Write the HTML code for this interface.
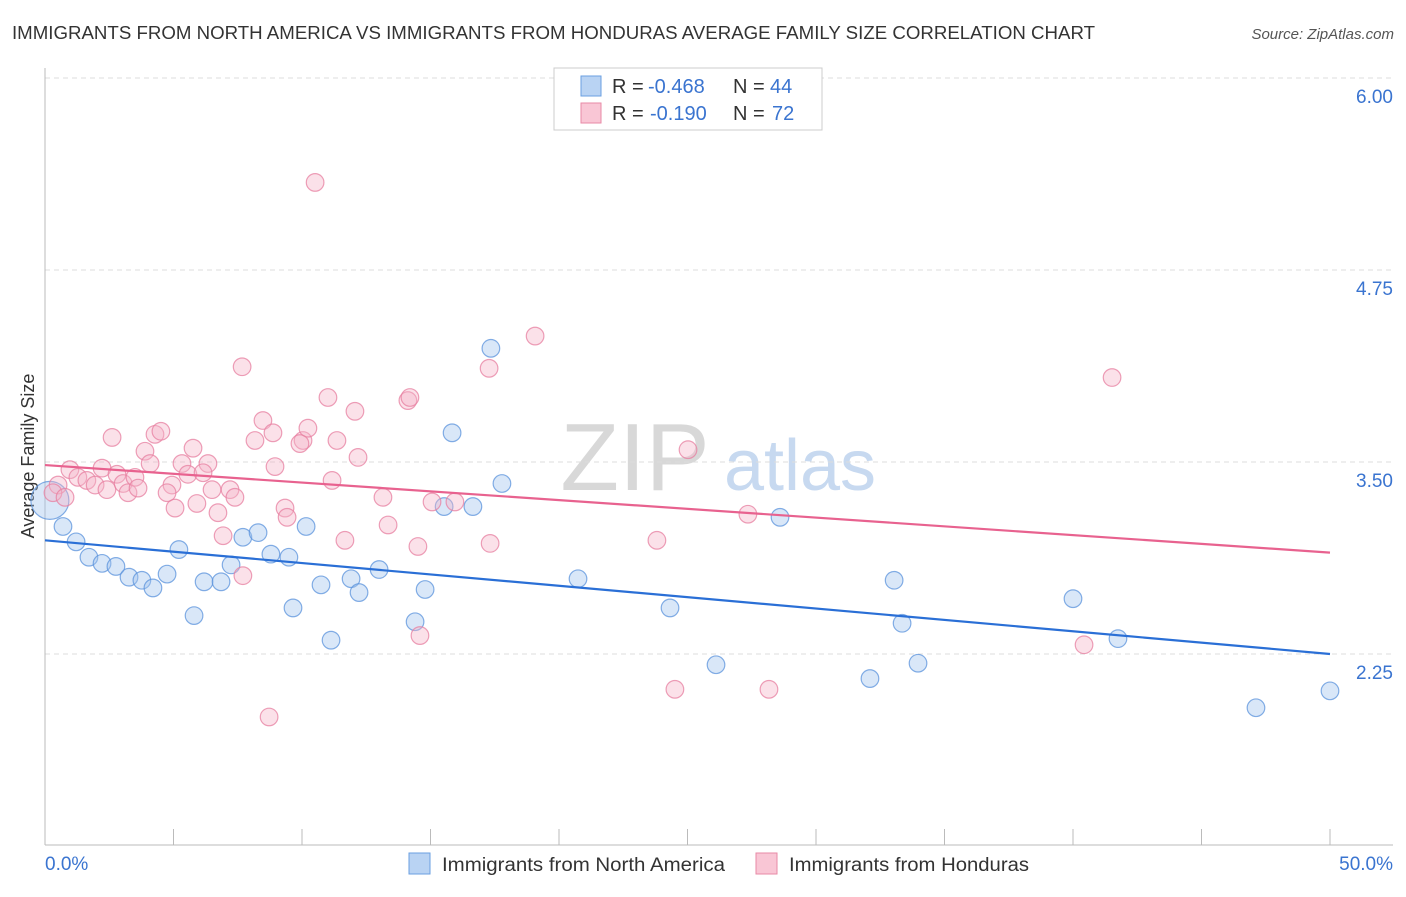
<!DOCTYPE html>
<html><head><meta charset="utf-8"><style>
body{margin:0;background:#fff;font-family:"Liberation Sans",sans-serif}
svg text{font-family:"Liberation Sans",sans-serif}
</style></head><body>
<svg id="c" width="1406" height="892">
<text x="12" y="39" font-size="18" fill="#333" textLength="1083" lengthAdjust="spacingAndGlyphs">IMMIGRANTS FROM NORTH AMERICA VS IMMIGRANTS FROM HONDURAS AVERAGE FAMILY SIZE CORRELATION CHART</text>
<text x="1394" y="39" font-size="15" fill="#555" text-anchor="end" font-style="italic">Source: ZipAtlas.com</text>
<text x="635" y="490" font-size="96" fill="#d8d8d8" text-anchor="middle" font-family="Liberation Serif">ZIP</text>
<text x="800" y="490" font-size="72" fill="#c7d9f0" text-anchor="middle">atlas</text>
<text transform="translate(34,456) rotate(-90)" font-size="18" fill="#333" text-anchor="middle">Average Family Size</text>
<g id="grid"></g><g id="marks"></g>
<g>
<rect x="554" y="68" width="268" height="62" fill="#fff" stroke="#ccc"/>
<rect x="581" y="76" width="20" height="20" fill="#b9d3f3" stroke="#6a9fe0"/>
<rect x="581" y="103" width="20" height="20" fill="#f9c6d5" stroke="#e88aa6"/>
<text x="612" y="93" font-size="20" fill="#333">R =</text>
<text x="648" y="93" font-size="20" fill="#3a74d0">-0.468</text>
<text x="733" y="93" font-size="20" fill="#333">N =</text>
<text x="770" y="93" font-size="20" fill="#3a74d0">44</text>
<text x="612" y="120" font-size="20" fill="#333">R =</text>
<text x="650" y="120" font-size="20" fill="#3a74d0">-0.190</text>
<text x="733" y="120" font-size="20" fill="#333">N =</text>
<text x="772" y="120" font-size="20" fill="#3a74d0">72</text>
</g>
<g>
<rect x="409" y="853" width="21" height="21" fill="#b9d3f3" stroke="#6a9fe0"/>
<text x="442" y="871" font-size="19" fill="#333" textLength="283" lengthAdjust="spacingAndGlyphs">Immigrants from North America</text>
<rect x="756" y="853" width="21" height="21" fill="#f9c6d5" stroke="#e88aa6"/>
<text x="789" y="871" font-size="19" fill="#333" textLength="240" lengthAdjust="spacingAndGlyphs">Immigrants from Honduras</text>
</g>
</svg>
<script>
const yTicks=[6.00,4.75,3.50,2.25];
const xTickLabels=["0.0%","50.0%"];
const blueX=[0.19,0.70,1.21,1.71,2.22,2.76,3.27,3.77,4.20,4.75,5.21,5.80,6.19,6.85,7.24,7.70,8.29,8.79,9.49,9.65,10.16,10.74,11.13,11.91,12.22,13.00,14.40,14.79,15.53,15.84,16.65,17.35,17.78,20.74,24.32,26.11,28.60,32.10,33.04,33.35,33.97,40.00,41.75,47.12,50.00];
const blueY=[3.25,3.08,2.98,2.88,2.84,2.82,2.75,2.73,2.68,2.77,2.93,2.50,2.72,2.72,2.83,3.01,3.04,2.90,2.88,2.55,3.08,2.70,2.34,2.74,2.65,2.80,2.46,2.67,3.21,3.69,3.21,4.24,3.36,2.74,2.55,2.18,3.14,2.09,2.73,2.45,2.19,2.61,2.35,1.90,2.01];
const pinkX=[2.61,4.28,4.51,3.89,4.09,2.22,0.97,1.28,1.63,1.95,2.41,2.80,3.04,3.23,3.50,3.62,0.51,0.31,0.78,5.76,5.33,5.56,6.34,6.15,4.94,4.75,5.06,5.91,6.50,6.73,7.20,7.39,6.93,7.70,8.48,8.87,8.17,10.04,10.23,9.92,11.36,12.06,12.18,8.95,11.17,9.34,9.42,13.15,13.35,11.67,14.51,15.06,14.59,14.12,10.51,7.67,19.07,17.28,11.01,14.20,41.52,25.02,15.95,17.32,23.81,27.35,24.51,28.17,40.43,8.72];
const pinkY=[3.66,3.68,3.70,3.57,3.49,3.46,3.45,3.40,3.38,3.35,3.32,3.42,3.36,3.30,3.40,3.33,3.35,3.30,3.27,3.59,3.49,3.42,3.49,3.43,3.35,3.30,3.20,3.23,3.32,3.17,3.32,3.27,3.02,2.76,3.77,3.69,3.64,3.64,3.72,3.62,3.64,3.83,3.53,3.47,3.38,3.20,3.14,3.27,3.09,2.99,2.95,3.24,2.37,3.90,5.32,4.12,4.32,4.11,3.92,3.92,4.05,3.58,3.24,2.97,2.99,3.16,2.02,2.02,2.31,1.84];
const blueLine=[2.99,2.25];
const pinkLine=[3.48,2.91];
const NS="http://www.w3.org/2000/svg";
const xs=v=>45+v/50*1285;
const ys=v=>78+(6-v)*153.6;
function mk(t,a,p){const e=document.createElementNS(NS,t);for(const k in a)e.setAttribute(k,a[k]);p.appendChild(e);return e;}
const g=document.getElementById('grid'),m=document.getElementById('marks');
yTicks.forEach(t=>{
 const l=mk('line',{x1:45,x2:1393,y1:ys(t),y2:ys(t),stroke:'#ddd','stroke-dasharray':'5,4'},g);
 
 
 const tx=mk('text',{x:1393,y:ys(t)+25,'font-size':19,fill:'#3a74d0','text-anchor':'end'},g);tx.textContent=t.toFixed(2);
 
 
});
const ax=mk('line',{x1:45,x2:45,y1:68,y2:845,stroke:'#bbb'},g);


const bx=mk('line',{x1:45,x2:1393,y1:845,y2:845,stroke:'#bbb'},g);


for(let i=0;i<=10;i++){const t=mk('line',{x1:xs(i*5),x2:xs(i*5),y1:829,y2:845,stroke:'#bbb'},g);
 
 }
[[0,'start',45],[50,'end',1393]].forEach((d,i)=>{const t=mk('text',{x:d[2],y:870,'font-size':19,fill:'#3a74d0','text-anchor':d[1]},g);t.textContent=xTickLabels[i];
 
 });
function pts(X,Y,fill,stroke,name){X.forEach((x,i)=>{const c=mk('circle',{cx:xs(x),cy:ys(Y[i]),r:(i===0&&name==='north-america-point')?19:8.8,fill:fill,'fill-opacity':0.4,stroke:stroke,'stroke-opacity':0.75,'stroke-width':1.2},m);
 
 });}
pts(blueX,blueY,'#9fc2ee','#5b93dc','north-america-point');
pts(pinkX,pinkY,'#f6b3c7','#e77fa0','honduras-point');
const bl=mk('line',{x1:xs(0),x2:xs(50),y1:ys(blueLine[0]),y2:ys(blueLine[1]),stroke:'#2a6fd6','stroke-width':2.2},m);


const pl=mk('line',{x1:xs(0),x2:xs(50),y1:ys(pinkLine[0]),y2:ys(pinkLine[1]),stroke:'#e8628f','stroke-width':2.2},m);


</script>
</body></html>
